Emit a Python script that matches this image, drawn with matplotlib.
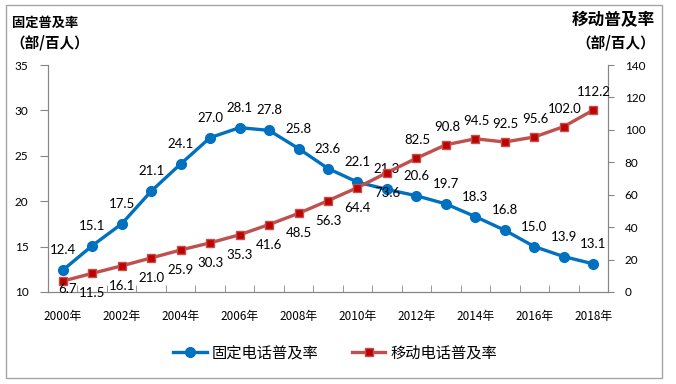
import matplotlib
matplotlib.use("Agg")
import matplotlib.pyplot as plt
from matplotlib.patches import Rectangle

plt.rcParams['font.family'] = ['Lato', 'Noto Sans CJK SC', 'DejaVu Sans']

# 数据
years = [str(y) for y in range(2000, 2019)]
fixed = [12.4, 15.1, 17.5, 21.1, 24.1, 27.0, 28.1, 27.8, 25.8, 23.6,
         22.1, 21.3, 20.6, 19.7, 18.3, 16.8, 15.0, 13.9, 13.1]
mobile = [6.7, 11.5, 16.1, 21.0, 25.9, 30.3, 35.3, 41.6, 48.5, 56.3,
          64.4, 73.6, 82.5, 90.8, 94.5, 92.5, 95.6, 102.0, 112.2]
xlabels = [y + "年" for y in years]

fig = plt.figure(figsize=(6.76, 3.84), dpi=100)
ax = fig.add_axes([48 / 676, 1 - 292 / 384, 560 / 676, 227 / 384])
ax2 = ax.twinx()

x = list(range(len(years)))
blue = "#0070C0"
red_line = "#C0504D"
red_mk = "#C00000"
gray = "#868686"

l1, = ax.plot(x, fixed, color=blue, lw=2.4, marker="o", ms=7,
              markerfacecolor=blue, markeredgecolor=blue, label="固定电话普及率")
l2, = ax2.plot(x, mobile, color=red_line, lw=2.4, marker="s", ms=6,
               markerfacecolor=red_mk, markeredgecolor=red_line, label="移动电话普及率")

# 数据标签
for i, v in enumerate(fixed):
    ax.annotate(f"{v:.1f}", (i, v), xytext=(0, 20), textcoords="offset pixels",
                ha="center", va="center", fontsize=9.5, color="black")
for i, v in enumerate(mobile):
    if i == 0:
        off = (5, -8)
    elif i < 12:
        off = (0, -20)
    else:
        off = (1, 18)
    ax2.annotate(f"{v:.1f}", (i, v), xytext=off, textcoords="offset pixels",
                 ha="center", va="center", fontsize=9.5, color="black")

ax.set_xlim(-0.5, len(years) - 0.5)
ax.set_ylim(10, 35)
ax.set_yticks(range(10, 36, 5))
ax2.set_ylim(0, 140)
ax2.set_yticks(range(0, 141, 20))

ax.set_xticks(x[::2])
ax.set_xticklabels(xlabels[::2], fontsize=8.5, family=['Noto Sans CJK SC'])
ax.set_xticks([i + 0.5 for i in range(-1, len(years))], minor=True)
ax.tick_params(axis="x", which="major", length=0, pad=13)
ax.tick_params(axis="x", which="minor", direction="in", length=5, color=gray)
ax.tick_params(axis="y", direction="out", length=6, color=gray, labelsize=8.5, pad=8)
ax2.tick_params(axis="y", direction="out", length=4, color=gray, labelsize=8.5, pad=8)

for a in (ax, ax2):
    a.spines["top"].set_visible(False)
    for s in ("left", "right", "bottom"):
        a.spines[s].set_color(gray)

# 轴标题
fig.text(12 / 676, 1 - 23 / 384, "固定普及率", fontsize=9.5, fontweight="bold",
         family=['Noto Sans CJK SC'], ha="left", va="center")
fig.text(10 / 676, 1 - 42 / 384, "（部/百人）", fontsize=10.5, fontweight="bold",
         family=['Noto Sans CJK SC'], ha="left", va="center")
fig.text(655 / 676, 1 - 20 / 384, "移动普及率", fontsize=12, fontweight="bold",
         family=['Noto Sans CJK SC'], ha="right", va="center")
fig.text(655 / 676, 1 - 42 / 384, "（部/百人）", fontsize=10.5, fontweight="bold",
         family=['Noto Sans CJK SC'], ha="right", va="center")

leg = fig.legend(handles=[l1, l2], loc="center", bbox_to_anchor=(335 / 676, 1 - 353 / 384),
                 ncol=2, frameon=False, prop={'family': 'Noto Sans CJK SC', 'size': 11},
                 handlelength=2.2, columnspacing=2.2, handletextpad=0.3)

fig.patches.append(Rectangle((6 / 676, 1 - 378 / 384), 656 / 676, 373 / 384,
                             transform=fig.transFigure, fill=False,
                             edgecolor="#A6A6A6", lw=1))

fig.savefig("out.png", dpi=100)
